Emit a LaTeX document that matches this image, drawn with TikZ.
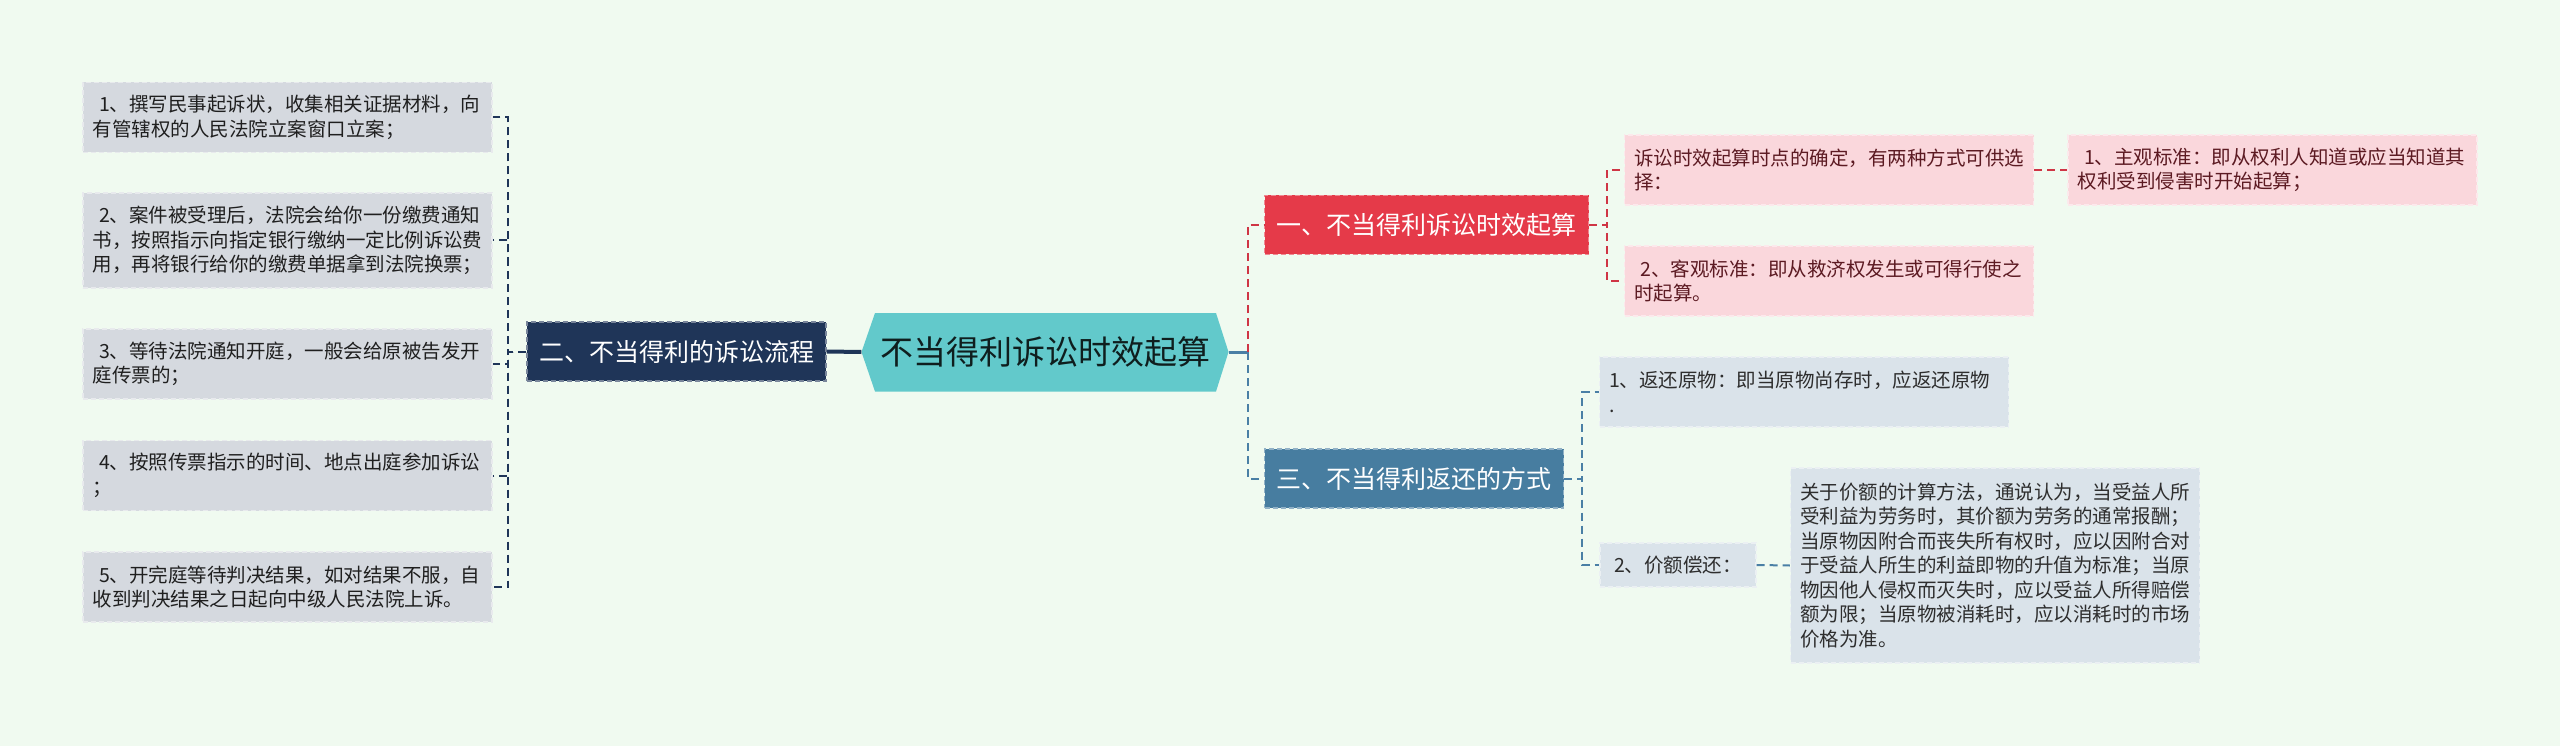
\documentclass[tikz,border=0pt]{standalone}
\usepackage{fontspec}
\setmainfont{Noto Sans CJK SC}
\usepackage{xcolor}
\usetikzlibrary{positioning}
\definecolor{bgmint}{HTML}{F0FAF0}
\definecolor{rootcyan}{HTML}{62C9CB}
\definecolor{navy}{HTML}{1F3558}
\definecolor{redtop}{HTML}{E53A49}
\definecolor{steel}{HTML}{477DA0}
\definecolor{pinkfill}{HTML}{FAD7DC}
\definecolor{maroon}{HTML}{5C1A22}
\definecolor{greyfill}{HTML}{D5D9DF}
\definecolor{bluegrey}{HTML}{DAE3EA}
\definecolor{redlinkc}{HTML}{CF3545}
\definecolor{bluelinkc}{HTML}{4A7FA5}
\tikzset{
root/.style={minimum width=367pt, minimum height=79pt, inner sep=0pt, text=black!85!rootcyan, font=\fontsize{33}{38}\selectfont},
topic/.style={fill=#1, draw=white!40!#1, dash pattern=on 5pt off 3pt, line width=1.2pt, text=white, inner xsep=12pt, minimum height=59pt, font=\fontsize{25}{30}\selectfont},
leaf/.style={align=left, text width=390pt, inner xsep=9.5pt, minimum height=70pt, font=\fontsize{19.5}{24.5}\selectfont, dash pattern=on 5pt off 3pt, line width=1.2pt},
greyleaf/.style={fill=greyfill, draw=white!45!greyfill, text=black!88},
pinkleaf/.style={fill=pinkfill, draw=white!45!pinkfill, text=maroon},
blueleaf/.style={fill=bluegrey, draw=white!45!bluegrey, text=black!82},
navylink/.style={draw=navy, line width=2pt, dash pattern=on 8pt off 5pt},
redlink/.style={draw=redlinkc, line width=2pt, dash pattern=on 8pt off 5pt},
bluelink/.style={draw=bluelinkc, line width=2pt, dash pattern=on 8pt off 5pt}
}

\begin{document}
\begin{tikzpicture}[x=1pt, y=-1pt]
\fill[bgmint] (0,0) rectangle (2560,746);
\fill[rootcyan] (861.5,352) -- (875,313) -- (1216,313) -- (1228.5,352) -- (1216,391.5) -- (875,391.5) -- cycle;
\node[root] (root) at (1045,352) {不当得利诉讼时效起算};

\node[leaf, greyleaf] (l1) at (287.5,117.5) {\ 1、撰写民事起诉状，收集相关证据材料，向\\有管辖权的人民法院立案窗口立案；};
\node[leaf, greyleaf, minimum height=95pt] (l2) at (287.5,240.5) {\ 2、案件被受理后，法院会给你一份缴费通知\\书，按照指示向指定银行缴纳一定比例诉讼费\\用，再将银行给你的缴费单据拿到法院换票；};
\node[leaf, greyleaf] (l3) at (287.5,364) {\ 3、等待法院通知开庭，一般会给原被告发开\\庭传票的；};
\node[leaf, greyleaf] (l4) at (287.5,475.5) {\ 4、按照传票指示的时间、地点出庭参加诉讼\\；};
\node[leaf, greyleaf] (l5) at (287.5,587) {\ 5、开完庭等待判决结果，如对结果不服，自\\收到判决结果之日起向中级人民法院上诉。};

\node[topic=navy] (flow) at (676.5,351.5) {二、不当得利的诉讼流程};
\node[topic=redtop] (start) at (1426.5,225) {一、不当得利诉讼时效起算};
\node[topic=steel] (ret) at (1414,478.5) {三、不当得利返还的方式};

\node[leaf, pinkleaf] (a) at (1829,170) {诉讼时效起算时点的确定，有两种方式可供选\\择：};
\node[leaf, pinkleaf] (b) at (1829,281) {\ 2、客观标准：即从救济权发生或可得行使之\\时起算。};
\node[leaf, pinkleaf] (c) at (2272.5,170) {\ 1、主观标准：即从权利人知道或应当知道其\\权利受到侵害时开始起算；};

\node[leaf, blueleaf] (d) at (1804,392) {1、返还原物：即当原物尚存时，应返还原物\\.};
\node[blueleaf, dash pattern=on 5pt off 3pt, line width=1.2pt, inner xsep=13pt, minimum width=156pt, minimum height=44pt, font=\fontsize{19.5}{24.5}\selectfont] (e) at (1678,565) {2、价额偿还：};
\node[leaf, blueleaf, minimum height=195pt] (f) at (1995,565.5) {关于价额的计算方法，通说认为，当受益人所\\受利益为劳务时，其价额为劳务的通常报酬；\\当原物因附合而丧失所有权时，应以因附合对\\于受益人所生的利益即物的升值为标准；当原\\物因他人侵权而灭失时，应以受益人所得赔偿\\额为限；当原物被消耗时，应以消耗时的市场\\价格为准。};

\foreach \n in {l1,l2,l3,l4,l5}
  \draw[navylink] (flow.west) -- ++(-18,0) |- (\n.east);
\draw[navy, line width=4pt] (flow.east) -- (root.west);

\coordinate (rj) at ([xshift=19pt]root.east);
\draw[bluelinkc, line width=3pt] (root.east) -- (rj);
\draw[redlink] (rj) |- (start.west);
\draw[bluelink] (rj) |- (ret.west);
\draw[redlink] (start.east) -- ++(18,0) |- (a.west);
\draw[redlink] (start.east) -- ++(18,0) |- (b.west);
\draw[redlink] (a.east) -- (c.west);
\draw[bluelink] (ret.east) -- ++(18,0) |- (d.west);
\draw[bluelink] (ret.east) -- ++(18,0) |- (e.west);
\draw[bluelink] (e.east) -- (f.west);
\end{tikzpicture}
\end{document}
